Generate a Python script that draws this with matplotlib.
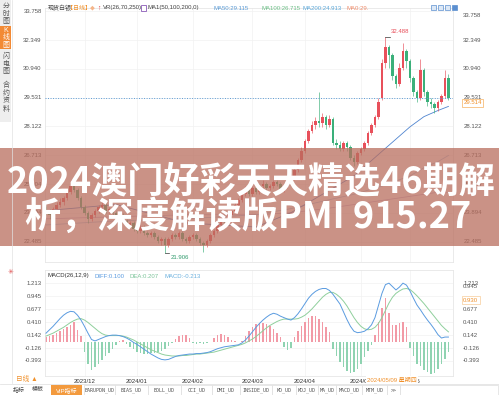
import matplotlib
matplotlib.use("Agg")
import matplotlib.pyplot as plt
import matplotlib.transforms as mtransforms
from matplotlib.patches import Rectangle
import numpy as np

plt.rcParams['font.family'] = ['Liberation Sans', 'Noto Sans CJK SC', 'DejaVu Sans']

W, H = 499, 395

# ---- daily candles (silver spot) ----
opens = [24.2, 24.0, 23.8, 24.1, 24.3, 24.4, 24.6, 24.9, 25.2, 25.0,
         24.6, 24.2, 23.9, 23.6, 23.8, 24.0, 24.2, 24.3, 24.0, 24.1,
         23.9, 23.7, 23.8, 23.5, 23.3, 23.4, 23.1, 23.0, 23.2, 22.9,
         22.8, 22.9, 22.7, 22.5, 22.6, 22.3, 22.6, 22.8, 22.7, 22.9,
         22.6, 22.5, 22.7, 22.8, 22.6, 22.4, 22.3, 22.5, 22.8, 23.0,
         23.3, 23.6, 23.5, 23.8, 24.0, 24.3, 24.5, 24.8, 25.0, 24.8,
         25.1, 24.9, 25.2, 25.3, 25.1, 25.2, 25.4, 25.3, 25.0, 25.2,
         25.5, 25.6, 26.0, 26.5, 26.9, 27.4, 27.9, 28.2, 28.4, 28.3,
         28.6, 28.2, 28.5, 27.3, 27.2, 27.0, 27.3, 27.1, 26.6, 26.4,
         26.8, 27.0, 27.3, 27.8, 28.2, 28.6, 29.5, 31.2, 32.0, 31.6,
         30.6, 30.2, 31.0, 31.8, 31.3, 30.5, 29.8, 29.5, 30.9, 29.8,
         29.3, 29.2, 29.0, 29.3, 29.6, 30.5]
closes = [24.0, 23.8, 24.1, 24.3, 24.4, 24.6, 24.9, 25.2, 25.0, 24.6,
          24.2, 23.9, 23.6, 23.8, 24.0, 24.2, 24.3, 24.0, 24.1, 23.9,
          23.7, 23.8, 23.5, 23.3, 23.4, 23.1, 23.0, 23.2, 22.9, 22.8,
          22.9, 22.7, 22.5, 22.6, 22.3, 22.6, 22.8, 22.7, 22.9, 22.6,
          22.5, 22.7, 22.8, 22.6, 22.4, 22.3, 22.5, 22.8, 23.0, 23.3,
          23.6, 23.5, 23.8, 24.0, 24.3, 24.5, 24.8, 25.0, 24.8, 25.1,
          24.9, 25.2, 25.3, 25.1, 25.2, 25.4, 25.3, 25.0, 25.2, 25.5,
          25.6, 26.0, 26.5, 26.9, 27.4, 27.9, 28.2, 28.4, 28.3, 28.6,
          28.2, 28.5, 27.3, 27.2, 27.0, 27.3, 27.1, 26.6, 26.4, 26.8,
          27.0, 27.3, 27.8, 28.2, 28.6, 29.3, 31.2, 32.0, 31.6, 30.6,
          30.2, 31.0, 31.8, 31.3, 30.5, 29.8, 29.5, 30.9, 29.8, 29.3,
          29.2, 29.0, 29.3, 29.6, 30.5, 29.514]
highs = [24.3, 24.1, 24.2, 24.4, 24.6, 24.7, 25.0, 25.5, 25.3, 25.1,
         24.7, 24.3, 24.0, 23.9, 24.1, 24.3, 24.5, 24.4, 24.2, 24.2,
         24.0, 23.9, 23.9, 23.6, 23.5, 23.5, 23.2, 23.3, 23.3, 23.0,
         23.0, 23.0, 22.8, 22.7, 22.7, 22.7, 22.9, 22.9, 23.0, 23.0,
         22.7, 22.8, 22.9, 22.9, 22.7, 22.5, 22.6, 22.9, 23.1, 23.4,
         23.7, 23.7, 23.9, 24.1, 24.4, 24.6, 24.9, 25.2, 25.1, 25.2,
         25.2, 25.3, 25.5, 25.4, 25.3, 25.5, 25.5, 25.4, 25.3, 25.6,
         25.8, 26.1, 26.6, 27.1, 27.5, 28.0, 28.4, 28.6, 29.8, 28.8,
         28.7, 28.7, 28.6, 27.5, 27.4, 27.4, 27.4, 27.2, 26.7, 26.9,
         27.1, 27.4, 27.9, 28.3, 28.7, 29.5, 31.4, 32.488, 32.1, 31.7,
         30.7, 31.2, 32.2, 31.9, 31.4, 30.6, 29.9, 31.4, 31.0, 29.9,
         29.5, 29.3, 29.4, 29.7, 30.9, 30.7]
lows = [23.8, 23.6, 23.7, 24.0, 24.2, 24.3, 24.5, 24.8, 24.9, 24.5,
        24.1, 23.8, 23.4, 23.5, 23.7, 23.9, 24.1, 23.9, 23.9, 23.8,
        23.6, 23.6, 23.4, 23.2, 23.2, 23.0, 22.9, 22.9, 22.8, 22.7,
        22.7, 22.6, 22.4, 22.3, 21.906, 22.2, 22.5, 22.6, 22.6, 22.5,
        22.4, 22.4, 22.6, 22.5, 22.3, 22.0, 22.2, 22.4, 22.7, 22.9,
        23.2, 23.4, 23.4, 23.7, 23.9, 24.2, 24.4, 24.7, 24.7, 24.7,
        24.8, 24.8, 25.1, 25.0, 25.0, 25.1, 25.2, 24.9, 24.9, 25.1,
        25.4, 25.5, 25.9, 26.4, 26.8, 27.3, 27.8, 28.0, 28.1, 28.1,
        28.0, 28.1, 27.2, 27.0, 26.9, 26.9, 26.9, 26.5, 26.2, 26.3,
        26.7, 26.9, 27.2, 27.7, 28.1, 28.5, 29.4, 31.0, 31.0, 30.4,
        30.0, 30.1, 30.9, 31.0, 30.3, 29.6, 29.3, 29.4, 29.6, 29.1,
        29.0, 28.8, 28.9, 29.2, 29.5, 29.4]

# moving averages, read at a few bars
ma_idx = [0, 20, 40, 60, 70, 80, 88, 96, 104, 108, 112, 115]
ma50 = [24.0, 24.3, 23.4, 23.2, 23.9, 24.9, 25.7, 26.9, 28.1, 28.6, 28.9, 29.1]
ma100 = [23.3, 23.5, 23.6, 23.8, 24.1, 24.5, 24.8, 25.2, 25.7, 26.1, 26.4, 26.7]
ma200 = [23.6, 23.7, 23.8, 23.8, 23.9, 24.1, 24.3, 24.5, 24.7, 24.8, 24.9, 24.9]

# ---- MACD(26,12,9) ----
diff = [0.18, 0.25, 0.32, 0.40, 0.48, 0.55, 0.60, 0.63, 0.62, 0.55,
        0.45, 0.32, 0.18, 0.05, 0.02, 0.05, 0.08, 0.11, 0.13, 0.14,
        0.14, 0.13, 0.11, 0.08, 0.04, -0.01, -0.05, -0.10, -0.15, -0.20,
        -0.25, -0.29, -0.33, -0.36, -0.37, -0.36, -0.33, -0.30, -0.28, -0.27,
        -0.26, -0.25, -0.25, -0.24, -0.24, -0.23, -0.22, -0.20, -0.17, -0.14,
        -0.12, -0.10, -0.09, -0.08, -0.07, -0.06, -0.02, 0.04, 0.12, 0.21,
        0.30, 0.38, 0.45, 0.51, 0.56, 0.59, 0.57, 0.53, 0.50, 0.47,
        0.45, 0.50, 0.58, 0.68, 0.79, 0.90, 0.98, 1.04, 1.08, 1.10,
        1.10, 1.06, 0.98, 0.88, 0.78, 0.62, 0.46, 0.32, 0.22, 0.19,
        0.20, 0.22, 0.27, 0.35, 0.50, 0.75, 1.00, 1.18, 1.21, 1.14,
        1.07, 1.13, 1.21, 1.17, 1.05, 0.90, 0.76, 0.66, 0.55, 0.45,
        0.36, 0.26, 0.15, 0.08, 0.10, 0.100]
dea = [0.12, 0.15, 0.18, 0.22, 0.26, 0.30, 0.35, 0.40, 0.44, 0.47,
       0.48, 0.45, 0.40, 0.34, 0.28, 0.22, 0.17, 0.14, 0.13, 0.13,
       0.13, 0.13, 0.12, 0.10, 0.07, 0.04, 0.00, -0.04, -0.08, -0.12,
       -0.16, -0.19, -0.22, -0.25, -0.27, -0.28, -0.29, -0.29, -0.29, -0.28,
       -0.28, -0.27, -0.26, -0.25, -0.25, -0.24, -0.23, -0.22, -0.21, -0.19,
       -0.17, -0.15, -0.13, -0.11, -0.09, -0.07, -0.05, -0.02, 0.02, 0.06,
       0.11, 0.17, 0.23, 0.29, 0.34, 0.38, 0.42, 0.45, 0.47, 0.47,
       0.47, 0.47, 0.48, 0.51, 0.55, 0.61, 0.68, 0.76, 0.84, 0.92,
       0.98, 1.02, 1.02, 0.98, 0.92, 0.84, 0.74, 0.62, 0.50, 0.40,
       0.32, 0.27, 0.25, 0.26, 0.30, 0.38, 0.50, 0.65, 0.80, 0.92,
       1.00, 1.05, 1.09, 1.10, 1.08, 1.02, 0.95, 0.87, 0.79, 0.70,
       0.61, 0.52, 0.43, 0.34, 0.27, 0.207]
macd_hist = [0.10, 0.12, 0.15, 0.18, 0.22, 0.26, 0.30, 0.35, 0.41, 0.25,
             0.12, -0.20, -0.45, -0.58, -0.52, -0.45, -0.38, -0.30, -0.22, -0.14,
             -0.06, 0.02, 0.03, -0.05, -0.10, -0.15, -0.20, -0.23, -0.25, -0.24,
             -0.22, -0.22, -0.20, -0.18, -0.14, -0.08, -0.03, 0.05, 0.12, 0.15,
             0.14, 0.08, -0.02, -0.04, -0.03, -0.05, -0.02, -0.01, 0.08, 0.15,
             0.17, 0.15, 0.10, 0.04, 0.02, -0.01, 0.02, 0.12, 0.22, 0.30,
             0.36, 0.39, 0.38, 0.36, 0.32, 0.26, 0.18, 0.10, -0.10, -0.16,
             -0.12, 0.10, 0.22, 0.33, 0.42, 0.50, 0.54, 0.53, 0.48, 0.40,
             0.30, 0.20, -0.15, -0.30, -0.42, -0.52, -0.60, -0.64, -0.62, -0.55,
             -0.45, -0.32, -0.18, -0.06, 0.15, 0.40, 0.70, 0.90, 0.60, 0.35,
             0.35, 0.38, 0.40, 0.30, -0.12, -0.30, -0.45, -0.50, -0.58, -0.62,
             -0.66, -0.64, -0.55, -0.45, -0.35, -0.213]

price_ticks = [33.758, 32.349, 30.940, 29.531, 28.122, 26.713, 25.304, 23.894, 22.485]
macd_ticks = [1.213, 0.945, 0.677, 0.410, 0.142, -0.126, -0.393]
month_idx = [11, 26, 42, 59, 74, 90, 104]
month_labels = ["2023/12", "2024/01", "2024/02", "2024/03", "2024/04", "2024/05", "2024/06"]
tabs = ["BARUPDN_UD", "BIAS_UD", "BOLL_UD", "CCI_UD", "DMI_UD", "INSIDE_UD",
        "KD_UD", "KDJ_UD", "MA_UD", "MACD_UD", "MTM_UD", ">>"]

RED = "#e8505b"
GREEN = "#3bb07a"
GRID = "#f1f1f1"
TXT = "#555555"
FS = 4.3


def rect(x0, y0, x1, y1):
    return [x0 / W, 1 - y1 / H, (x1 - x0) / W, (y1 - y0) / H]


fig = plt.figure(figsize=(W / 100, H / 100), dpi=100)
fig.patch.set_facecolor("white")

# ---------------- price panel ----------------
ax = fig.add_axes(rect(45, 8, 453, 262))
n = len(closes)
idx = np.arange(n)
o = np.array(opens); c = np.array(closes)
up = c >= o
cols = np.where(up, RED, GREEN)
ax.vlines(idx, lows, highs, colors=cols, linewidth=0.45, zorder=3)
ax.bar(idx, np.maximum(np.abs(c - o), 0.04), bottom=np.minimum(o, c),
       width=0.6, color=cols, linewidth=0, zorder=4)
ax.plot(ma_idx, ma200, color="#c9b7d8", lw=0.6, zorder=2)
ax.plot(ma_idx, ma100, color="#a9c9e8", lw=0.6, zorder=2)
ax.plot(ma_idx, ma50, color="#4f84cf", lw=0.6, zorder=2)
ax.axhline(29.531, color="#5b9bd5", lw=0.7, ls=(0, (1, 1.6)), zorder=5)
ax.set_xlim(-0.29, 116.3)
ax.set_ylim(21.488, 33.915)

ytrans = mtransforms.blended_transform_factory(ax.transAxes, ax.transData)
for v in price_ticks:
    ax.axhline(v, color=GRID, lw=0.5, zorder=0)
    ax.text(-0.008, v, f"{v:.3f}", transform=ytrans, ha="right", va="center",
            fontsize=FS, color=TXT)
    if v != price_ticks[0]:
        ax.text(1.025, v, f"{v:.3f}", transform=ytrans, ha="left", va="center",
                fontsize=FS, color=TXT)
ax.text(1.025, 33.56, "33.758", transform=ytrans, ha="left", va="center",
        fontsize=FS, color=TXT)
ax.text(1.025, 29.27, "29.514", transform=ytrans, ha="left", va="center",
        fontsize=FS, color="#f0902a",
        bbox=dict(boxstyle="square,pad=0.25", fc="white", ec="#f5b060", lw=0.5))
for m in month_idx:
    ax.axvline(m, color=GRID, lw=0.5, zorder=0)

# high / low markers
ax.plot([97, 98.2], [32.488, 32.488], color="#333333", lw=0.5, zorder=6)
ax.text(98.6, 32.75, "32.488", fontsize=FS, color="#e8505b", ha="left", va="center")
ax.plot([34, 35.2], [21.906, 21.906], color="#333333", lw=0.5, zorder=6)
ax.text(35.5, 21.72, "21.906", fontsize=FS, color="#2f9a6c", ha="left", va="center")

ax.set_xticks([]); ax.set_yticks([])
for s in ax.spines.values():
    s.set_color("#e6e6e6"); s.set_linewidth(0.6)

# ---------------- MACD panel ----------------
ax2 = fig.add_axes(rect(45, 270, 453, 376))
h = np.array(macd_hist)
ax2.bar(idx, h, width=0.35, color=np.where(h >= 0, "#f29aa6", "#8fd3b1"),
        linewidth=0, zorder=2)
ax2.plot(idx, dea, color="#8fcf9c", lw=0.7, zorder=3)
ax2.plot(idx, diff, color="#5a9be0", lw=0.7, zorder=4)
ax2.set_xlim(-0.29, 116.3)
ax2.set_ylim(-0.702, 1.481)
ytrans2 = mtransforms.blended_transform_factory(ax2.transAxes, ax2.transData)
for v in macd_ticks:
    ax2.axhline(v, color=GRID, lw=0.5, zorder=0)
    ax2.text(-0.008, v, f"{v:.3f}", transform=ytrans2, ha="right", va="center",
             fontsize=FS, color=TXT)
    vv = 1.15 if v == 0.945 else v
    ax2.text(1.025, vv, f"{v:.3f}", transform=ytrans2, ha="left", va="center",
             fontsize=FS, color=TXT)
ax2.text(1.025, 0.86, "0.930", transform=ytrans2, ha="left", va="center",
         fontsize=FS, color="#f0902a",
         bbox=dict(boxstyle="square,pad=0.2", fc="white", ec="#f5c080", lw=0.4))
for m in month_idx:
    ax2.axvline(m, color=GRID, lw=0.5, zorder=0)
ax2.set_xticks(month_idx)
ax2.set_xticklabels(month_labels, fontsize=FS, color="#333333")
ax2.tick_params(axis="x", length=0, pad=2.5)
ax2.set_yticks([])
for s in ax2.spines.values():
    s.set_color("#e6e6e6"); s.set_linewidth(0.6)

# ---------------- overlay: header, sidebar, banner, tab bar ----------------
ov = fig.add_axes([0, 0, 1, 1], zorder=10)
ov.set_xlim(0, W); ov.set_ylim(H, 0)
ov.axis("off")
ov.patch.set_alpha(0)

# sidebar
ov.add_patch(Rectangle((0, 0), 11.5, 122, color="#eeeeee", lw=0))
ov.add_patch(Rectangle((0, 26), 11.5, 23, color="#f28a35", lw=0))
ov.plot([12, 12], [0, 383], color="#e2e2e2", lw=0.5)
for ch, y in zip("分时图", [6, 14, 22]):
    ov.text(5.8, y, ch, fontsize=5, color="#555555", ha="center", va="center")
for ch, y in zip("K线图", [31, 38, 45]):
    ov.text(5.8, y, ch, fontsize=5, color="white", ha="center", va="center")
for ch, y in zip("闪电图", [56, 64, 72]):
    ov.text(5.8, y, ch, fontsize=5, color="#555555", ha="center", va="center")
for ch, y in zip("合约资料", [85, 93, 101, 109]):
    ov.text(5.8, y, ch, fontsize=5, color="#555555", ha="center", va="center")

# header line
hy = 8
HF = 4.3
ov.text(48, hy, "现货白银", fontsize=HF, color="#444444", va="center")
ov.text(67, hy, "【日线】", fontsize=HF, color="#f0902a", va="center")
ov.text(90, hy, "◆", fontsize=3.5, color="#f5b58a", va="center")
ov.text(97, hy, "↑", fontsize=HF + 0.5, color="#d93030", va="center", fontweight="bold")
ov.text(103, hy, "VR(26,70,250)", fontsize=HF, color="#444444", va="center")
ov.add_patch(Rectangle((141, 5), 5, 5.5, fc="white", ec="#8a5ab8", lw=0.6))
ov.text(148, hy, "MA1(50,100,200,0)", fontsize=HF, color="#444444", va="center")
ov.text(214, hy, "MA50:29.115", fontsize=HF, color="#5b9bd5", va="center")
ov.text(262, hy, "MA100:26.715", fontsize=HF, color="#6cbf86", va="center")
ov.text(303, hy, "MA200:24.913", fontsize=HF, color="#5ba7d8", va="center")
ov.text(347, hy, "MA0:29.", fontsize=HF, color="#ef8c6b", va="center")
for k, x in enumerate([431, 438, 445, 452]):
    ov.add_patch(Rectangle((x, 4.5), 5.5, 5.5, fc="#5b8fd0" if k == 3 else "#dce8f6",
                           ec="#5b8fd0", lw=0.5))

# MACD title
ty = 276
ov.text(11, 272.5, "✳", fontsize=5, color="#e04a4a", ha="center", va="center")
ov.text(48, ty, "MACD(26,12,9)", fontsize=FS, color="#333333", va="center")
ov.text(95, ty, "DIFF:0.100", fontsize=FS, color="#5a9be0", va="center")
ov.text(130, ty, "DEA:0.207", fontsize=FS, color="#7cc49a", va="center")
ov.text(165, ty, "MACD:-0.213", fontsize=FS, color="#6ab0de", va="center")

# crosshair date label and bottom-left period
ov.text(367, 380, "2024/05/09 星期四", fontsize=FS, color="#f0902a", va="center",
        bbox=dict(boxstyle="square,pad=0.15", fc="white", ec="none"))
ov.text(16, 379, "日线 ▲", fontsize=FS + 0.5, color="#f0902a", va="center")

# tab bar
ov.plot([0, W], [384, 384], color="#dddddd", lw=0.5)
ov.text(13, 389.5, "指标", fontsize=FS, color="#444444", va="center")
ov.text(32, 389.5, "模板", fontsize=FS, color="#444444", va="center")
ov.add_patch(Rectangle((51, 385), 31, 10, color="#f39a3d", lw=0))
ov.text(66.5, 390, "VIP指标", fontsize=FS, color="white", ha="center", va="center")
tab_x = [84, 115, 148, 181, 212, 240, 272, 296, 318, 336, 362, 387, 400]
for k, t in enumerate(tabs):
    x0, x1 = tab_x[k], tab_x[k + 1]
    ov.add_patch(Rectangle((x0, 385), x1 - x0, 10, fc="white", ec="#dddddd", lw=0.5))
    ov.text((x0 + x1) / 2, 390, t, fontsize=3.6, color="#555555", ha="center",
            va="center", family=["DejaVu Sans Mono", "Noto Sans CJK SC"])
ov.add_patch(Rectangle((400, 385), 98, 10, fc="white", ec="#dddddd", lw=0.5))

# banner overlay
ov.add_patch(Rectangle((0, 148), W, 98, color=(0.725, 0.43, 0.37), alpha=0.75, lw=0))
ov.text(251, 182, "2024澳门好彩天天精选46期解", fontsize=26, color="white",
        fontweight="bold", ha="center", va="center", family=["Noto Sans CJK SC"])
ov.text(248, 217, "析，深度解读版PMI 915.27", fontsize=26, color="white",
        fontweight="bold", ha="center", va="center", family=["Noto Sans CJK SC"])

fig.savefig("out.png", dpi=100)
